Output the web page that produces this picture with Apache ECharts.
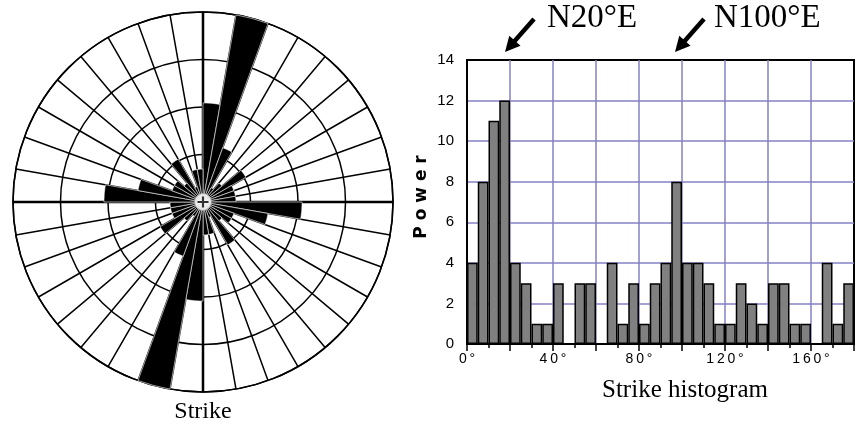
<!DOCTYPE html>
<html>
<head>
<meta charset="utf-8">
<script src="https://cdn.jsdelivr.net/npm/echarts@6/dist/echarts.min.js"></script>
<style>
  html, body { margin: 0; padding: 0; background: #fff; }
  #main { width: 862px; height: 427px; }
</style>
</head>
<body>
<div id="main"></div>
<script>
// rose: 10 degree sectors, strike is bidirectional so 0-180 repeats for 180-360
const roseSectors = ['0', '10', '20', '30', '40', '50', '60', '70', '80', '90', '100', '110',
  '120', '130', '140', '150', '160', '170', '180', '190', '200', '210', '220', '230',
  '240', '250', '260', '270', '280', '290', '300', '310', '320', '330', '340', '350'];
const roseCounts = [12, 23, 7, 2, 3, 6, 4, 4, 4, 12, 8, 4, 4, 3, 6, 2, 4, 4];
const roseMax = 23;

// histogram: 5 degree bins
const histBins = ['0', '5', '10', '15', '20', '25', '30', '35', '40', '45', '50', '55',
  '60', '65', '70', '75', '80', '85', '90', '95', '100', '105', '110', '115',
  '120', '125', '130', '135', '140', '145', '150', '155', '160', '165', '170', '175'];
const histCounts = [4, 8, 11, 12, 4, 3, 1, 1, 3, 0, 3, 3, 0, 4, 1, 3, 1, 3,
  4, 8, 4, 4, 3, 1, 1, 3, 2, 1, 3, 3, 1, 1, 0, 4, 1, 3];
const xLabels = [0, 40, 80, 120, 160];

const serif = '"Liberation Serif", "Times New Roman", serif';
const purple = '#8581c4';

function arrow(tx, ty, ax, ay) {
  const len = Math.hypot(ax - tx, ay - ty);
  const ux = (ax - tx) / len, uy = (ay - ty) / len;
  const px = -uy, py = ux;
  const hl = 15, hw = 7.5;
  const bx = tx + ux * hl, by = ty + uy * hl;
  return [
    { type: 'line', shape: { x1: tx + ux * 10, y1: ty + uy * 10, x2: ax, y2: ay },
      style: { stroke: '#000', lineWidth: 4.5 } },
    { type: 'polygon', shape: { points: [[tx, ty], [bx + px * hw, by + py * hw], [bx - px * hw, by - py * hw]] },
      style: { fill: '#000' } }
  ];
}

const chart = echarts.init(document.getElementById('main'));
chart.setOption({
  animation: false,
  backgroundColor: '#fff',
  polar: [
    { center: [203, 202], radius: 190 },
    { center: [203, 202], radius: 190 }
  ],
  angleAxis: [
    {
      polarIndex: 0, type: 'category', data: roseSectors, startAngle: 90, clockwise: true,
      boundaryGap: true,
      axisLine: { show: true, lineStyle: { color: '#000', width: 1.5 } },
      axisTick: { show: false, interval: 0 }, axisLabel: { show: false, interval: 0 },
      splitLine: { show: true, interval: 0, lineStyle: { color: '#000', width: 1.5 } }
    },
    {
      polarIndex: 1, type: 'value', min: 0, max: 360, interval: 90, startAngle: 90,
      axisLine: { show: false }, axisTick: { show: false }, axisLabel: { show: false },
      splitLine: { show: true, lineStyle: { color: '#000', width: 2.5 } }
    }
  ],
  radiusAxis: [
    {
      polarIndex: 0, type: 'value', min: 0, max: roseMax, interval: roseMax / 4,
      axisLine: { show: false }, axisTick: { show: false }, axisLabel: { show: false },
      splitLine: { show: true, lineStyle: { color: '#000', width: 1.5 } }
    },
    {
      polarIndex: 1, type: 'value', min: 0, max: 1,
      axisLine: { show: false }, axisTick: { show: false }, axisLabel: { show: false },
      splitLine: { show: false }
    }
  ],
  grid: {
    left: 467, top: 60, width: 387, height: 284,
    show: true, borderColor: '#000', borderWidth: 2, backgroundColor: 'transparent'
  },
  xAxis: [
    { type: 'category', data: histBins, position: 'top', show: false, boundaryGap: true },
    {
      type: 'value', min: 0, max: 180, interval: 20, position: 'bottom',
      axisLine: { lineStyle: { color: '#000', width: 2 } },
      axisTick: { show: true, length: 7, lineStyle: { color: '#000', width: 1.5 } },
      minorTick: { show: true, splitNumber: 2, length: 4, lineStyle: { color: '#000', width: 1.5 } },
      axisLabel: {
        color: '#000', fontSize: 14, fontFamily: '"Liberation Sans", Arial, sans-serif', margin: 8,
        formatter: v => xLabels.indexOf(v) >= 0 ? (v + '°').split('').join('\u2009') : ''
      },
      splitLine: { show: true, showMinLine: false, showMaxLine: false, lineStyle: { color: purple, width: 1.5 } }
    }
  ],
  yAxis: {
    type: 'value', min: 0, max: 14, interval: 2,
    name: 'P o w e r', nameLocation: 'middle', nameGap: 37, nameRotate: 90,
    nameTextStyle: { color: '#000', fontSize: 17, fontWeight: 'bold', fontFamily: '"DejaVu Sans", sans-serif', padding: [0, 0, 0, 10] },
    axisLine: { show: true, lineStyle: { color: '#000', width: 2 } },
    axisTick: { show: false },
    axisLabel: { color: '#000', fontSize: 15, fontFamily: '"Liberation Sans", Arial, sans-serif', margin: 13 },
    splitLine: { show: true, showMinLine: false, showMaxLine: false, lineStyle: { color: purple, width: 1.5 } }
  },
  series: [
    {
      type: 'bar', coordinateSystem: 'polar', polarIndex: 0,
      data: roseCounts.concat(roseCounts),
      barCategoryGap: '0%',
      itemStyle: { color: '#000', borderColor: '#fff', borderWidth: 0.6 },
      z: 3
    },
    {
      type: 'scatter', coordinateSystem: 'polar', polarIndex: 0,
      data: [[0, '0']], symbol: 'circle', symbolSize: 17,
      itemStyle: { color: '#fff', borderColor: '#999', borderWidth: 1 }, z: 5
    },
    {
      type: 'scatter', coordinateSystem: 'polar', polarIndex: 0,
      data: [[0, '0']], symbol: 'path://M4,0h2v4h4v2h-4v4h-2v-4h-4v-2h4z', symbolSize: 11,
      itemStyle: { color: '#000' }, z: 6
    },
    {
      type: 'bar', xAxisIndex: 0, yAxisIndex: 0,
      data: histCounts, barCategoryGap: '0%',
      itemStyle: { color: '#808080', borderColor: '#000', borderWidth: 1.5 },
      z: 3
    }
  ],
  graphic: [
    { type: 'text', x: 203, y: 412, style: { text: 'Strike', font: '24px ' + serif, fill: '#000', align: 'center', verticalAlign: 'middle' } },
    { type: 'text', x: 685, y: 390, style: { text: 'Strike histogram', font: '25px ' + serif, fill: '#000', align: 'center', verticalAlign: 'middle' } },
    { type: 'text', x: 547, y: 18, style: { text: 'N20°E', font: '33px ' + serif, fill: '#000', align: 'left', verticalAlign: 'middle' } },
    { type: 'text', x: 714, y: 18, style: { text: 'N100°E', font: '33px ' + serif, fill: '#000', align: 'left', verticalAlign: 'middle' } }
  ].concat(arrow(505, 52, 534, 19), arrow(675, 52, 704, 19))
});
</script>
</body>
</html>
